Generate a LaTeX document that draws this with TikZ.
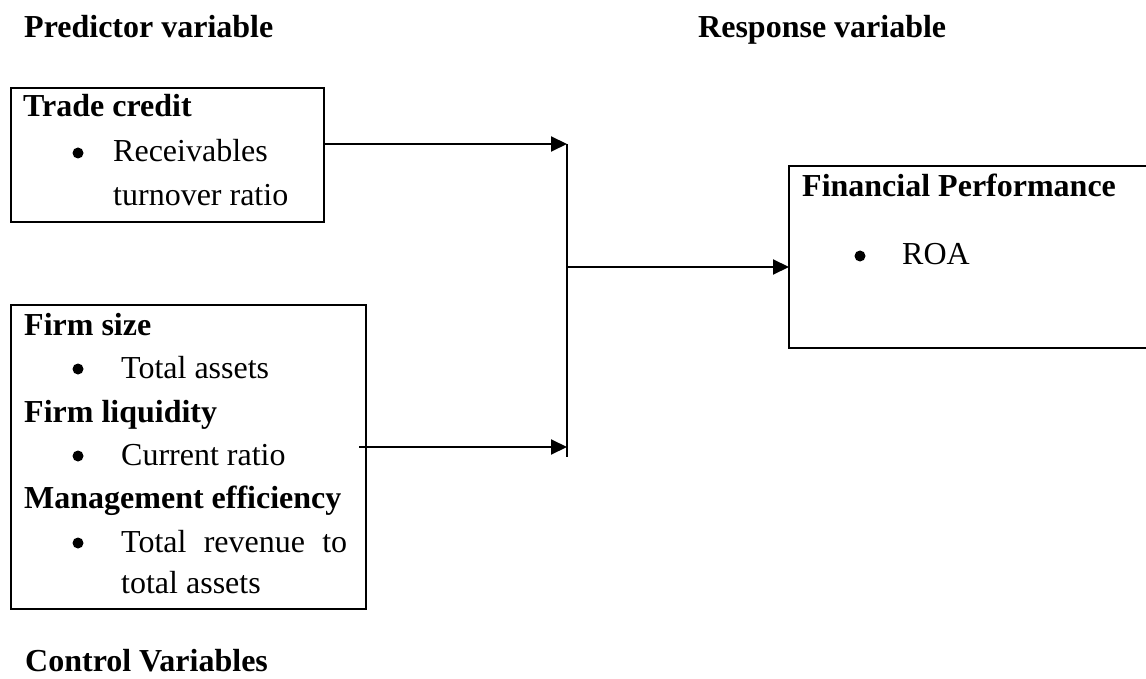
\documentclass[tikz,border=0pt]{standalone}
\usepackage{fontspec}
\setmainfont{Liberation Serif}
\usetikzlibrary{arrows.meta}

\begin{document}
\begin{tikzpicture}[x=1pt, y=-1pt,
                    every node/.append style={inner sep=0pt, font=\fontsize{32}{38}\selectfont},
                    head/.style={anchor=base west, font=\fontsize{32}{38}\selectfont\bfseries},
                    itemtext/.style={anchor=base west},
                    dot/.style={circle, fill, minimum size=11pt},
                    box/.style={rectangle, draw, line width=2pt, anchor=north west},
                    arr/.style={line width=2pt, -{Triangle[length=16pt, width=15pt]}}]
    \useasboundingbox (0,0) rectangle (1146,679);

    % Column headings
    \node [head] (pred) at (24,38) {Predictor variable};
    \node [head] (resp) at (698,38) {Response variable};

    % Trade credit box
    \node [box, minimum width=313pt, minimum height=134pt] (trade) at (10,87) {};
    \node [head] (trade_h) at (23,117) {Trade credit};
    \node [dot] (trade_b) at (78,153) {};
    \node [itemtext] (trade_i1) at (113,162) {Receivables};
    \node [itemtext] (trade_i2) at (113,206) {turnover ratio};

    % Control box
    \node [box, minimum width=355pt, minimum height=304pt] (ctrl) at (10,304) {};
    \node [head] (size_h) at (24,335) {Firm size};
    \node [dot] (size_b) at (78,369) {};
    \node [itemtext] (size_i) at (121,378) {Total assets};
    \node [head] (liq_h) at (24,422) {Firm liquidity};
    \node [dot] (liq_b) at (78,456) {};
    \node [itemtext] (liq_i) at (121,465) {Current ratio};
    \node [head] (mgt_h) at (24,508) {Management efficiency};
    \node [dot] (mgt_b) at (78,543) {};
    \node [itemtext] (mgt_i1) at (121,552) {\makebox[226pt][s]{Total revenue to}};
    \node [itemtext] (mgt_i2) at (121,593) {total assets};

    % Performance box, open on the right
    \node [anchor=north west, minimum width=357pt, minimum height=182pt] (perf) at (789,166) {};
    \draw [line width=2pt] (perf.north east) -- (perf.north west) -- (perf.south west) -- (perf.south east);
    \node [head] (perf_h) at (802,197) {Financial Performance};
    \node [dot] (perf_b) at (860,256) {};
    \node [itemtext] (perf_i) at (902,265) {ROA};

    \node [head] (ctrlvars) at (25,671) {Control Variables};

    % Junction line
    \coordinate (jtop) at (567,144);
    \coordinate (jlow) at (567,447);
    \coordinate (jbot) at (567,457);
    \coordinate (jmid) at (567,267);
    \draw [line width=1.3pt] (jtop) -- (jbot);

    % Draw the arrows
    \draw [arr] (trade.east|-jtop)                -- (jtop);
    \draw [arr] ([xshift=-8pt]ctrl.east|-jlow)     -- (jlow);
    \draw [arr] (jmid)                            -- (perf.west|-jmid);
\end{tikzpicture}
\end{document}
